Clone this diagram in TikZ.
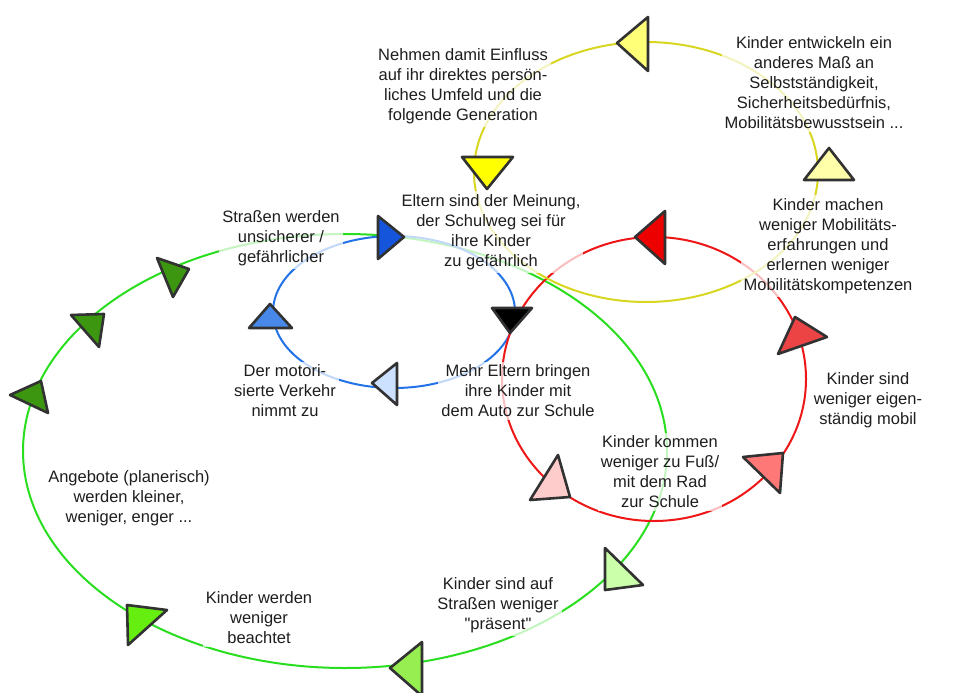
\documentclass[tikz,border=0pt]{standalone}
\usepackage{fontspec}
\setmainfont{Liberation Sans}
\newfontfamily\qfont{Liberation Sans}[Ligatures=TeXOff]
\definecolor{lgreen}{RGB}{40,222,30}
\definecolor{lblue}{RGB}{35,115,232}
\definecolor{lred}{RGB}{238,22,22}
\definecolor{lyellow}{RGB}{216,214,32}
\definecolor{tedge}{RGB}{50,50,50}
\definecolor{txt}{RGB}{30,30,30}
\definecolor{cDarkBlue}{RGB}{20,85,220}
\definecolor{cMedBlue}{RGB}{72,136,232}
\definecolor{cLightBlue}{RGB}{204,224,255}
\definecolor{cRed}{RGB}{236,0,0}
\definecolor{cMedRed}{RGB}{236,68,68}
\definecolor{cSalmon}{RGB}{255,120,120}
\definecolor{cPink}{RGB}{255,204,204}
\definecolor{cYellow}{RGB}{255,255,0}
\definecolor{cYellowPale}{RGB}{255,255,120}
\definecolor{cYellowVPale}{RGB}{255,255,170}
\definecolor{cDarkGreen}{RGB}{60,150,16}
\definecolor{cLime}{RGB}{102,238,17}
\definecolor{cLightGreen}{RGB}{150,238,80}
\definecolor{cPaleGreen}{RGB}{204,255,170}
\begin{document}
\begin{tikzpicture}[x=1pt,y=-1pt,
  loop/.style={line width=2pt},
  tri/.style={draw=tedge,line width=2.6pt,line join=round},
  lbl/.style={fill=white,fill opacity=0.72,text opacity=1,text=txt,align=center,
    inner sep=3pt,font=\fontsize{16.5}{20}\selectfont}]
\useasboundingbox[fill=white] (0,0) rectangle (958,693);
% loops
\draw[loop,lgreen] (345,451) ellipse [x radius=322pt, y radius=217pt];
\draw[loop,lblue] (394,312) ellipse [x radius=121pt, y radius=76pt];
\draw[loop,lred] (654,379) ellipse [x radius=152pt, y radius=142pt];
\draw[loop,lyellow] (646,172) ellipse [x radius=172pt, y radius=130pt];
% labels
\node[lbl] (nehmen) at (463,86) {Nehmen damit Einfluss\\auf ihr direktes persön-\\liches Umfeld und die\\folgende Generation};
\node[lbl] (entw) at (814,83) {Kinder entwickeln ein\\anderes Maß an\\Selbstständigkeit,\\Sicherheitsbedürfnis,\\Mobilitätsbewusstsein ...};
\node[lbl] (machen) at (828,246) {Kinder machen\\weniger Mobilitäts-\\erfahrungen und\\erlernen weniger\\Mobilitätskompetenzen};
\node[lbl] (eltern) at (491,232) {Eltern sind der Meinung,\\der Schulweg sei für\\ihre Kinder\\zu gefährlich};
\node[lbl] (strassen) at (281,238) {Straßen werden\\unsicherer /\\gefährlicher};
\node[lbl] (motor) at (285,391) {Der motori-\\sierte Verkehr\\nimmt zu};
\node[lbl] (mehr) at (518,391) {Mehr Eltern bringen\\ihre Kinder mit\\dem Auto zur Schule};
\node[lbl] (kommen) at (660,472) {Kinder kommen\\weniger zu Fuß/\\mit dem Rad\\zur Schule};
\node[lbl] (mobil) at (868,400) {Kinder sind\\weniger eigen-\\ständig mobil};
\node[lbl] (praesent) at (498,605) {Kinder sind auf\\Straßen weniger\\{\qfont "präsent"}};
\node[lbl] (beachtet) at (259,618) {Kinder werden\\weniger\\beachtet};
\node[lbl] (angebote) at (129,498) {Angebote (planerisch)\\werden kleiner,\\weniger, enger ...};
% triangles
\draw[tri,fill=cDarkBlue] (378,216) -- (378,259) -- (404,237) -- cycle;
\draw[tri,fill=cMedBlue] (249,328) -- (270,304) -- (292,328) -- cycle;
\draw[tri,fill=cLightBlue] (372,383) -- (397,363) -- (397,405) -- cycle;
\draw[tri,fill=black] (492,308) -- (532,308) -- (510,333) -- cycle;
\draw[tri,fill=cRed] (635,237) -- (665,211) -- (665,264) -- cycle;
\draw[tri,fill=cMedRed] (778,354) -- (795,317) -- (827,337) -- cycle;
\draw[tri,fill=cSalmon] (743,457) -- (783,453) -- (780,493) -- cycle;
\draw[tri,fill=cPink] (530,500) -- (558,455) -- (570,497) -- cycle;
\draw[tri,fill=cYellow] (462,157) -- (513,157) -- (487,189) -- cycle;
\draw[tri,fill=cYellowPale] (617,43) -- (648,17) -- (648,71) -- cycle;
\draw[tri,fill=cYellowVPale] (804,180) -- (829,148) -- (854,180) -- cycle;
\draw[tri,fill=cDarkGreen] (157,258) -- (189,269) -- (173,297) -- cycle;
\draw[tri,fill=cDarkGreen] (71,315) -- (104,314) -- (99,347) -- cycle;
\draw[tri,fill=cDarkGreen] (10,395) -- (41,381) -- (48,413) -- cycle;
\draw[tri,fill=cLime] (127,605) -- (167,610) -- (128,645) -- cycle;
\draw[tri,fill=cLightGreen] (390,668) -- (422,642) -- (422,696) -- cycle;
\draw[tri,fill=cPaleGreen] (605,548) -- (643,585) -- (605,590) -- cycle;
\end{tikzpicture}
\end{document}
